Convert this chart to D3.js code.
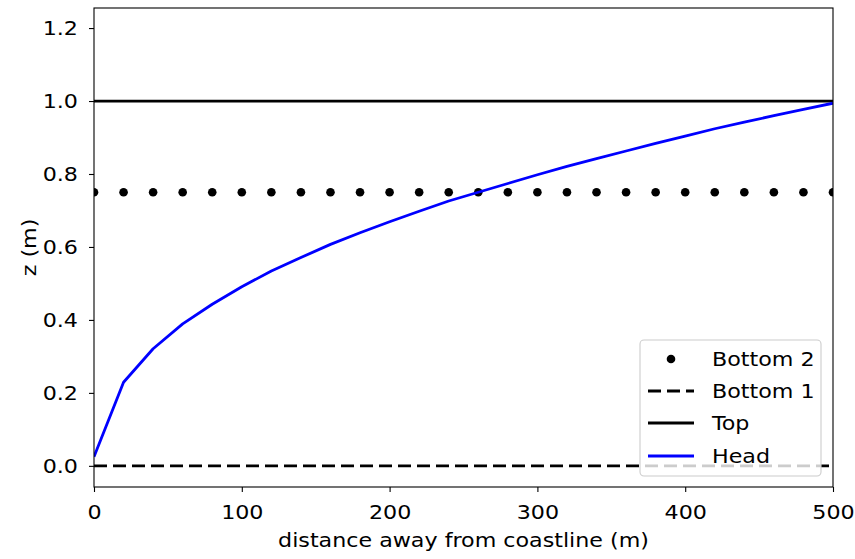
<!DOCTYPE html>
<html>
<head>
<meta charset="utf-8">
<script src="https://cdn.jsdelivr.net/npm/d3@7"></script>
<style>
  html, body { margin: 0; padding: 0; background: #fff; }
  svg { display: block; }
  text { font-family: "DejaVu Sans", sans-serif; fill: #000; }
</style>
</head>
<body>
<svg id="chart" width="855" height="559"></svg>
<script>
// ---- data ----
const distance = [0, 20, 40, 60, 80, 100, 120, 140, 160, 180, 200, 220, 240,
                  260, 280, 300, 320, 340, 360, 380, 400, 420, 440, 460, 480, 500];
const head = [0.025, 0.229, 0.321, 0.389, 0.443, 0.491, 0.534, 0.571, 0.607,
              0.639, 0.669, 0.698, 0.726, 0.750, 0.774, 0.798, 0.821, 0.842,
              0.863, 0.884, 0.904, 0.924, 0.942, 0.960, 0.977, 0.994];
const topLevel = 1.0;
const bottom1 = 0.0;
const bottom2 = 0.75;
const xTicks = [0, 100, 200, 300, 400, 500];
const yTicks = [0.0, 0.2, 0.4, 0.6, 0.8, 1.0, 1.2];
const legendLabels = ["Bottom 2", "Bottom 1", "Top", "Head"];

// ---- layout ----
const svg = d3.select("#chart");
const L = 94, R = 833, T = 8, B = 487;
const fs = 20;
const sx = 1.11;   // horizontal text stretch seen in the reference
const lw = 2.8;
const dash = "13,6";

const x = d3.scaleLinear().domain([0, 500]).range([L, R]);
const y = d3.scaleLinear().domain([-0.058, 1.255]).range([B, T]);

svg.append("defs").append("clipPath").attr("id", "clip")
  .append("rect").attr("x", L).attr("y", T).attr("width", R - L).attr("height", B - T);

const plot = svg.append("g").attr("clip-path", "url(#clip)");

// Bottom 2 (dots)
plot.selectAll("circle.b2").data(distance).join("circle")
  .attr("class", "b2")
  .attr("cx", d => x(d)).attr("cy", y(bottom2)).attr("r", 4.3).attr("fill", "#000");

// Bottom 1 (dashed)
plot.append("path")
  .attr("d", d3.line()([[x(0), y(bottom1)], [x(500), y(bottom1)]]))
  .attr("stroke", "#000").attr("stroke-width", lw).attr("fill", "none")
  .attr("stroke-dasharray", dash);

// Top
plot.append("path")
  .attr("d", d3.line()([[x(0), y(topLevel)], [x(500), y(topLevel)]]))
  .attr("stroke", "#000").attr("stroke-width", lw).attr("fill", "none");

// Head
plot.append("path")
  .datum(distance.map((d, i) => [d, head[i]]))
  .attr("d", d3.line().x(d => x(d[0])).y(d => y(d[1])))
  .attr("stroke", "#0000ff").attr("stroke-width", lw).attr("fill", "none")
  .attr("stroke-linejoin", "round");

// axes
const xAxis = svg.append("g").attr("transform", `translate(0,${B})`)
  .call(d3.axisBottom(x).tickValues(xTicks).tickFormat(d3.format("d")).tickSize(5).tickPadding(13));
const yAxis = svg.append("g").attr("transform", `translate(${L},0)`)
  .call(d3.axisLeft(y).tickValues(yTicks).tickFormat(d3.format(".1f")).tickSize(5).tickPadding(9.5));
[xAxis, yAxis].forEach(g => {
  g.select(".domain").remove();
  g.selectAll("line").attr("stroke", "#000").attr("stroke-width", 1.1);
  g.selectAll("text").attr("font-size", fs).attr("font-family", "DejaVu Sans, sans-serif")
    .attr("fill", "#000").attr("transform", `scale(${sx},1)`);
});

// frame
svg.append("rect").attr("x", L).attr("y", T).attr("width", R - L).attr("height", B - T)
  .attr("fill", "none").attr("stroke", "#000").attr("stroke-width", 1.1);

// axis labels
svg.append("text").attr("transform", `translate(${(L + R) / 2},547) scale(${sx},1)`)
  .attr("text-anchor", "middle").attr("font-size", fs).text("distance away from coastline (m)");
svg.append("text").attr("transform", `translate(36,${(T + B) / 2}) rotate(-90) scale(${sx},1)`)
  .attr("text-anchor", "middle").attr("font-size", fs).text("z (m)");

// legend
const lg = svg.append("g");
lg.append("rect").attr("x", 640).attr("y", 340).attr("width", 181).attr("height", 136)
  .attr("rx", 4).attr("fill", "#fff").attr("fill-opacity", 0.8)
  .attr("stroke", "#cccccc").attr("stroke-width", 1.1);
const rowY = [359, 391, 423, 456];
const hx0 = 648, hx1 = 694;
legendLabels.forEach((lab, i) => {
  const yy = rowY[i];
  if (i === 0) {
    lg.append("circle").attr("cx", (hx0 + hx1) / 2).attr("cy", yy).attr("r", 4.3).attr("fill", "#000");
  } else {
    const ln = lg.append("line").attr("x1", hx0).attr("x2", hx1).attr("y1", yy).attr("y2", yy)
      .attr("stroke", i === 3 ? "#0000ff" : "#000").attr("stroke-width", lw);
    if (i === 1) ln.attr("stroke-dasharray", dash);
  }
  lg.append("text").attr("transform", `translate(712,${yy}) scale(${sx},1)`).attr("dy", "0.35em")
    .attr("font-size", fs).text(lab);
});
</script>
</body>
</html>
